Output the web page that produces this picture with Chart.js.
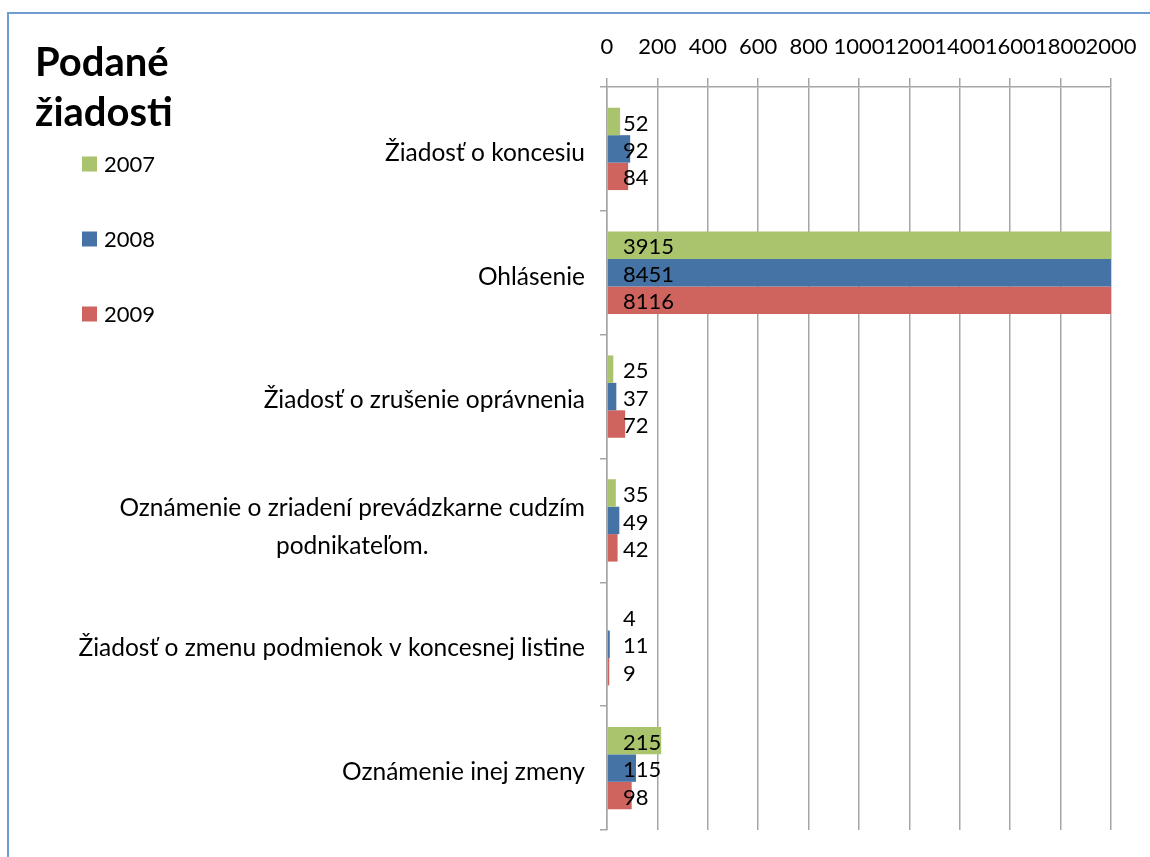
<!DOCTYPE html>
<html>
<head>
<meta charset="utf-8">
<script src="https://cdn.jsdelivr.net/npm/chart.js@4.4.1/dist/chart.umd.min.js"></script>
<style>
  html, body { margin: 0; padding: 0; background: #fff; }
  #wrap { width: 1150px; height: 857px; }
</style>
</head>
<body>
<div id="wrap"><canvas id="chart" width="1150" height="857"></canvas></div>
<script>
const categories = [
  'Žiadosť o koncesiu',
  'Ohlásenie',
  'Žiadosť o zrušenie oprávnenia',
  ['Oznámenie o zriadení prevádzkarne cudzím', 'podnikateľom.'],
  'Žiadosť o zmenu podmienok v koncesnej listine',
  'Oznámenie inej zmeny'
];
const years = ['2007', '2008', '2009'];
const values2007 = [52, 3915, 25, 35, 4, 215];
const values2008 = [92, 8451, 37, 49, 11, 115];
const values2009 = [84, 8116, 72, 42, 9, 98];
const xTicks = [0, 200, 400, 600, 800, 1000, 1200, 1400, 1600, 1800, 2000];
const titleLines = ['Podané', 'žiadosti'];

const FONT = 'Lato';
const GRID = '#A6A6A6';

// ram okolo grafu (len horny a lavy okraj su viditelne)
const frame = {
  id: 'frame',
  beforeDraw(chart) {
    const ctx = chart.ctx;
    ctx.save();
    ctx.fillStyle = '#fff';
    ctx.fillRect(0, 0, chart.width, chart.height);
    ctx.strokeStyle = '#6F9DD3';
    ctx.lineWidth = 2;
    ctx.beginPath();
    ctx.moveTo(8, chart.height);
    ctx.lineTo(8, 13);
    ctx.lineTo(chart.width, 13);
    ctx.stroke();
    ctx.restore();
  }
};

// nadpis a legenda vlavo hore
const sideLegend = {
  id: 'sideLegend',
  afterDraw(chart) {
    const ctx = chart.ctx;
    ctx.save();
    ctx.fillStyle = '#000';
    ctx.textAlign = 'left';
    ctx.textBaseline = 'alphabetic';
    ctx.font = `bold 40px ${FONT}`;
    titleLines.forEach((t, i) => ctx.fillText(t, 35, 76 + i * 50));

    ctx.font = `22px ${FONT}`;
    ctx.textBaseline = 'middle';
    chart.data.datasets.forEach((ds, i) => {
      const cy = 164 + i * 75;
      ctx.fillStyle = ds.backgroundColor;
      ctx.fillRect(82, cy - 7.5, 15, 15);
      ctx.fillStyle = '#000';
      ctx.fillText(ds.label, 104, cy + 1);
    });
    ctx.restore();
  }
};

// popisy kategorii - blok zarovnany doprava, riadky na stred
const categoryLabels = {
  id: 'categoryLabels',
  afterDraw(chart) {
    const ctx = chart.ctx;
    const y = chart.scales.y;
    ctx.save();
    ctx.fillStyle = '#000';
    ctx.font = `24.5px ${FONT}`;
    ctx.textAlign = 'center';
    ctx.textBaseline = 'middle';
    categories.forEach((c, i) => {
      const lines = Array.isArray(c) ? c : [c];
      const w = Math.max(...lines.map(l => ctx.measureText(l).width));
      const cx = y.right - 22 - w / 2;
      const cy = y.getPixelForValue(i) + 4;
      lines.forEach((l, k) => {
        ctx.fillText(l, cx, cy + (k - (lines.length - 1) / 2) * 38 + (lines.length > 1 ? 3 : 0));
      });
    });
    ctx.restore();
  }
};

// hodnoty pri zaciatku stlpcov
const valueLabels = {
  id: 'valueLabels',
  afterDatasetsDraw(chart) {
    const ctx = chart.ctx;
    const x0 = chart.scales.x.getPixelForValue(0);
    ctx.save();
    ctx.fillStyle = '#000';
    ctx.font = `22px ${FONT}`;
    ctx.textAlign = 'left';
    ctx.textBaseline = 'middle';
    chart.data.datasets.forEach((ds, i) => {
      chart.getDatasetMeta(i).data.forEach((bar, j) => {
        ctx.fillText(String(ds.data[j]), x0 + 16, bar.y + 2);
      });
    });
    ctx.restore();
  }
};

new Chart(document.getElementById('chart'), {
  type: 'bar',
  data: {
    labels: categories,
    datasets: [
      { label: years[0], data: values2007, backgroundColor: '#AAC46D' },
      { label: years[1], data: values2008, backgroundColor: '#4573A5' },
      { label: years[2], data: values2009, backgroundColor: '#CF645F' }
    ]
  },
  options: {
    indexAxis: 'y',
    responsive: false,
    animation: false,
    layout: { padding: { top: 0, left: 0, right: 39, bottom: 27 } },
    datasets: { bar: { categoryPercentage: 0.665, barPercentage: 1 } },
    plugins: {
      legend: { display: false },
      title: { display: false },
      tooltip: { enabled: false }
    },
    scales: {
      x: {
        position: 'top',
        min: 0,
        max: 2000,
        afterBuildTicks(s) { s.ticks = xTicks.map(v => ({ value: v })); },
        afterFit(s) { s.height = 87; },
        ticks: {
          autoSkip: false,
          maxRotation: 0,
          padding: 3,
          color: '#000',
          font: { family: FONT, size: 22, lineHeight: 2.55 },
          callback: v => String(v)
        },
        grid: { color: GRID, lineWidth: 1.5, tickLength: 9 },
        border: { color: GRID, width: 1.5 }
      },
      y: {
        afterFit(s) { s.width = 607; },
        ticks: { display: false },
        grid: { drawOnChartArea: false, offset: true, tickLength: 7, color: GRID, lineWidth: 1.5 },
        border: { color: GRID, width: 1.5 }
      }
    }
  },
  plugins: [frame, valueLabels, categoryLabels, sideLegend]
});
</script>
</body>
</html>
